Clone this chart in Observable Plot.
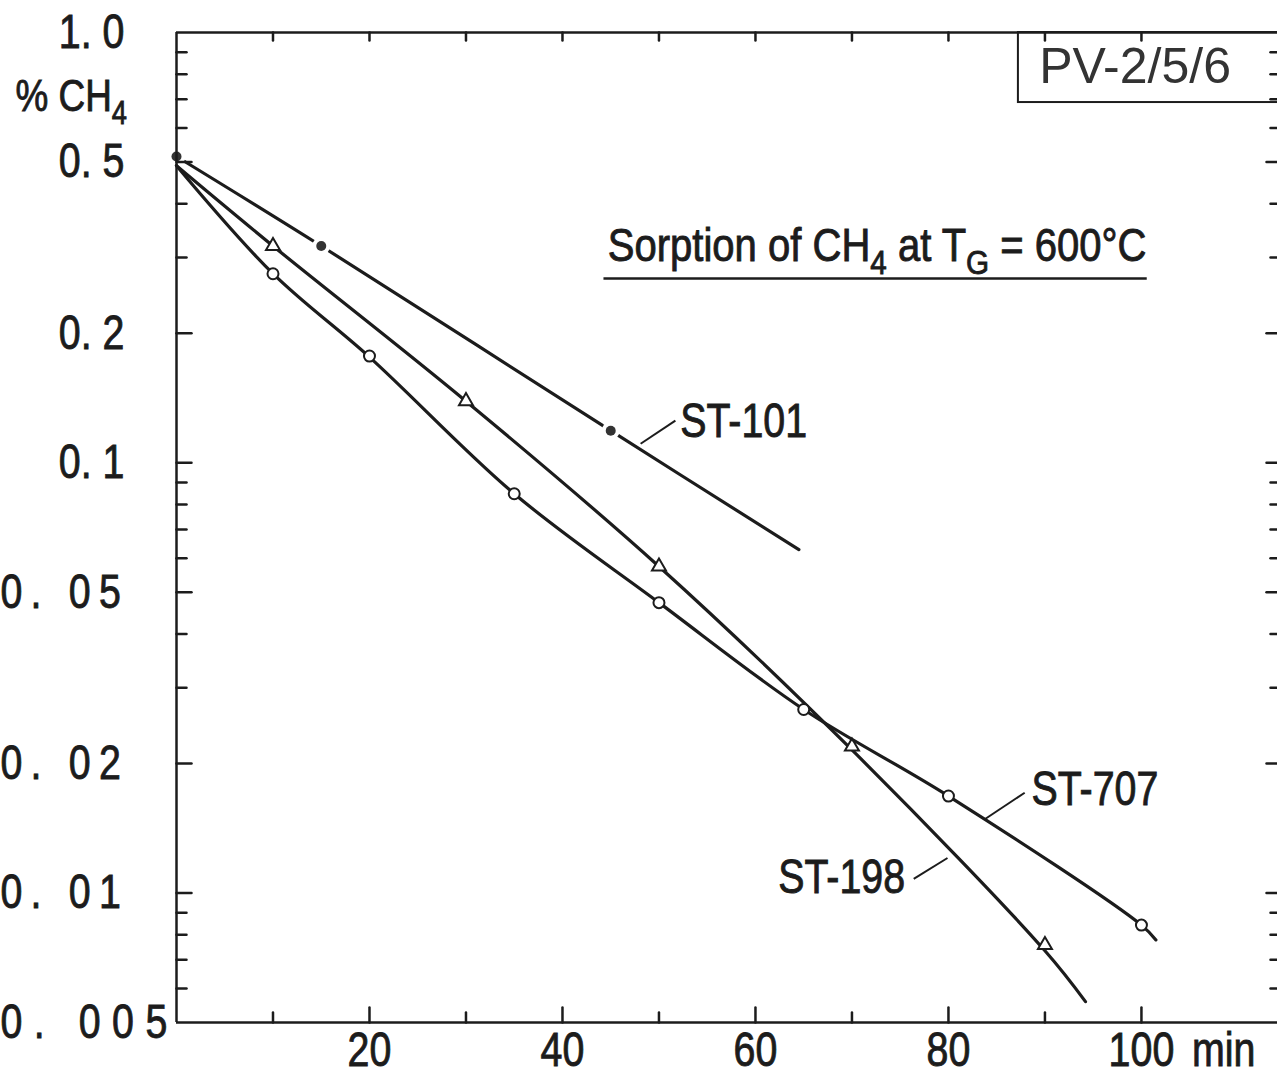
<!DOCTYPE html>
<html><head><meta charset="utf-8">
<script src="https://cdn.jsdelivr.net/npm/d3@7"></script>
<script src="https://cdn.jsdelivr.net/npm/@observablehq/plot@0.6"></script>
<style>
html,body{margin:0;padding:0;background:#fff;overflow:hidden}
svg text{white-space:pre}
</style></head><body><div id="chart"></div>
<script>
// ---------- data ----------
// ST-101 (filled dots)
const st101X = [0, 15, 45];
const st101Y = [0.515, 0.319, 0.1187];
const st101LineX = [0, 15, 45, 64.5];
const st101LineY = [0.515, 0.319, 0.1187, 0.0628];
// ST-198 (open triangles)
const st198X = [10, 30, 50, 70, 90];
const st198Y = [0.319, 0.139, 0.0574, 0.0219, 0.00757];
const st198LineX = [0, 10, 30, 50, 70, 90, 94.2];
const st198LineY = [0.49, 0.319, 0.139, 0.0574, 0.0215, 0.00734, 0.00559];
// ST-707 (open circles)
const st707X = [10, 20, 35, 50, 65, 80, 100];
const st707Y = [0.275, 0.177, 0.0847, 0.0473, 0.0267, 0.0168, 0.00842];
const st707LineX = [0, 10, 20, 35, 50, 65, 80, 100, 101.5];
const st707LineY = [0.49, 0.275, 0.176, 0.0847, 0.0473, 0.0267, 0.0168, 0.00842, 0.00778];

// axis ticks and labels
const xMajorTicks = [20, 40, 60, 80, 100];
const xMinorTicks = [10, 30, 50, 70, 90];
const xTickLabels = ["20", "40", "60", "80", "100"];
const yLabelValues = [1, 0.5, 0.2, 0.1, 0.05, 0.02, 0.01, 0.005];
const yTickLabels = ["1. 0", "0. 5", "0. 2", "0. 1", "0. 05", "0. 02", "0. 01", "0. 005"];
const yMajorTicks = [0.5, 0.2, 0.1, 0.05, 0.02, 0.01];
const yMinorTicks = [0.9, 0.8, 0.7, 0.6, 0.4, 0.3, 0.09, 0.08, 0.07, 0.06, 0.04, 0.03, 0.009, 0.008, 0.007, 0.006];

const xUnit = "min";
const yTitle = "% CH_4";
const chartTitle = "Sorption of CH_4 at T_G = 600°C";
const boxLabel = "PV-2/5/6";
const seriesNames = ["ST-101", "ST-198", "ST-707"];

// ---------- helpers ----------
const zip = (xs, ys) => xs.map((x, i) => ({x, y: ys[i]}));
const SANS = '"Liberation Sans",Arial,sans-serif';
const INK = "#1c1c1c";
const tickShape = {draw(ctx, l) { ctx.moveTo(0, 0); ctx.lineTo(0, -l); }};
const tick = (data, opts) => Plot.vector(data, {shape: tickShape, anchor: "start", stroke: INK, fill: "none", strokeWidth: 2.5, ...opts});

const X0 = 0, X1 = 114.1, Y0 = 0.005, Y1 = 1;

const plot = Plot.plot({
  width: 1277, height: 1075,
  marginLeft: 176, marginRight: 0, marginTop: 32, marginBottom: 53,
  style: {fontFamily: SANS, fontSize: "48px", background: "#fff", color: INK, overflow: "visible"},
  x: {domain: [X0, X1], axis: null},
  y: {type: "log", domain: [Y0, Y1], axis: null},
  marks: [
    // box label
    Plot.rect([0], {x1: () => 87.25, x2: () => 116, y1: () => 1, y2: () => 0.6874, fill: "none", stroke: INK, strokeWidth: 2}),
    Plot.text([boxLabel], {x: () => 89.4, y: () => 0.831, textAnchor: "start", lineAnchor: "middle", fontSize: 50, fill: "#333"}),
    // title + underline
    Plot.text([chartTitle], {x: () => 44.7, y: () => 0.318, textAnchor: "start", lineAnchor: "middle", fontSize: 46}),
    Plot.ruleY([0.2679], {x1: () => 44.3, x2: () => 100.6, stroke: INK, strokeWidth: 2.5}),
    // ST-101
    Plot.line(zip(st101LineX, st101LineY), {x: "x", y: "y", curve: "catmull-rom", stroke: INK, strokeWidth: 3.2}),
    Plot.dot(zip(st101X, st101Y), {x: "x", y: "y", r: 9, fill: "#fff", stroke: "none"}),
    Plot.dot(zip(st101X, st101Y), {x: "x", y: "y", r: 5, fill: "#333", stroke: "none"}),
    // ST-198
    Plot.line(zip(st198LineX, st198LineY), {x: "x", y: "y", curve: "catmull-rom", stroke: INK, strokeWidth: 3.2}),
    Plot.dot(zip(st198X, st198Y), {x: "x", y: "y", symbol: "triangle", r: 5.2, fill: "#fff", stroke: INK, strokeWidth: 2}),
    // ST-707
    Plot.line(zip(st707LineX, st707LineY), {x: "x", y: "y", curve: "catmull-rom", stroke: INK, strokeWidth: 3.2}),
    Plot.dot(zip(st707X, st707Y), {x: "x", y: "y", r: 5.5, fill: "#fff", stroke: INK, strokeWidth: 2}),
    // series labels with leader lines
    Plot.link([{x1: 48.1, y1: 0.1107, x2: 51.7, y2: 0.1253}, {x1: 83.8, y1: 0.01486, x2: 87.9, y2: 0.0171}, {x1: 76.4, y1: 0.01078, x2: 79.9, y2: 0.01206}],
      {x1: "x1", y1: "y1", x2: "x2", y2: "y2", stroke: INK, strokeWidth: 2}),
    Plot.text([seriesNames[0]], {x: () => 52.2, y: () => 0.1245, textAnchor: "start", lineAnchor: "middle"}),
    Plot.text([seriesNames[2]], {x: () => 88.6, y: () => 0.01735, textAnchor: "start", lineAnchor: "middle"}),
    Plot.text([seriesNames[1]], {x: () => 75.5, y: () => 0.01087, textAnchor: "end", lineAnchor: "middle"}),
    // frame
    Plot.ruleX([X0], {y1: () => Y0, y2: () => Y1, stroke: INK, strokeWidth: 2.5}),
    Plot.ruleY([Y0, Y1], {stroke: INK, strokeWidth: 2.5}),
    // ticks (inward)
    tick(xMajorTicks, {x: d => d, y: () => Y0, length: 15, rotate: 0}),
    tick(xMinorTicks, {x: d => d, y: () => Y0, length: 10, rotate: 0}),
    tick(xMajorTicks.concat(xMinorTicks), {x: d => d, y: () => Y1, length: 8, rotate: 180}),
    tick(yMajorTicks, {x: () => X0, y: d => d, length: 15, rotate: 90}),
    tick(yMinorTicks, {x: () => X0, y: d => d, length: 10, rotate: 90}),
    tick(yMajorTicks, {x: () => X1, y: d => d, length: 11, rotate: -90}),
    tick(yMinorTicks, {x: () => X1, y: d => d, length: 7, rotate: -90}),
    // tick labels
    Plot.text(xMajorTicks, {x: d => d, y: () => Y0, text: (d, i) => xTickLabels[i], dy: 9, lineAnchor: "top"}),
    Plot.text([xUnit], {frameAnchor: "bottom-right", dx: -22, dy: 9, lineAnchor: "top", textAnchor: "end"}),
    Plot.text(yLabelValues.slice(0, 4), {x: () => X0, y: d => d, text: (d, i) => yTickLabels[i], dx: -52, textAnchor: "end", lineAnchor: "middle"}),
    Plot.text(yLabelValues.slice(4), {x: () => X0, y: d => d, text: (d, i) => yTickLabels[i + 4], dx: -176, textAnchor: "start", lineAnchor: "middle"}),
    Plot.text([yTitle], {x: () => X0, y: () => 0.71, dx: -161, textAnchor: "start", lineAnchor: "middle", fontSize: 45})
  ]
});

document.getElementById("chart").appendChild(plot);

// condensed lettering, subscripts ("_x" marks a subscripted character), typewriter spacing of long labels
plot.querySelectorAll("text").forEach(t => {
  const s = t.textContent;
  if (s !== boxLabel) {
    const sx = s === chartTitle ? 0.87 : 0.82;
    t.setAttribute("transform", (t.getAttribute("transform") || "") + ` scale(${sx},1)`);
    t.setAttribute("stroke", INK);
    t.setAttribute("stroke-width", "0.9");
  }
  if (s === yTickLabels[7]) t.setAttribute("letter-spacing", "14");
  else if (yTickLabels.slice(4, 7).includes(s)) t.setAttribute("letter-spacing", "10");
  if (!s.includes("_")) return;
  const parts = s.split(/_(.)/);
  t.textContent = "";
  let prevSub = false;
  parts.forEach((p, i) => {
    if (p === "") return;
    const ts = document.createElementNS("http://www.w3.org/2000/svg", "tspan");
    ts.textContent = p;
    if (i % 2 === 1) {
      ts.setAttribute("font-size", "74%");
      ts.setAttribute("dy", "0.38em");
      prevSub = true;
    } else if (prevSub) {
      ts.setAttribute("dy", "-0.281em");
      prevSub = false;
    }
    t.appendChild(ts);
  });
});
</script></body></html>
